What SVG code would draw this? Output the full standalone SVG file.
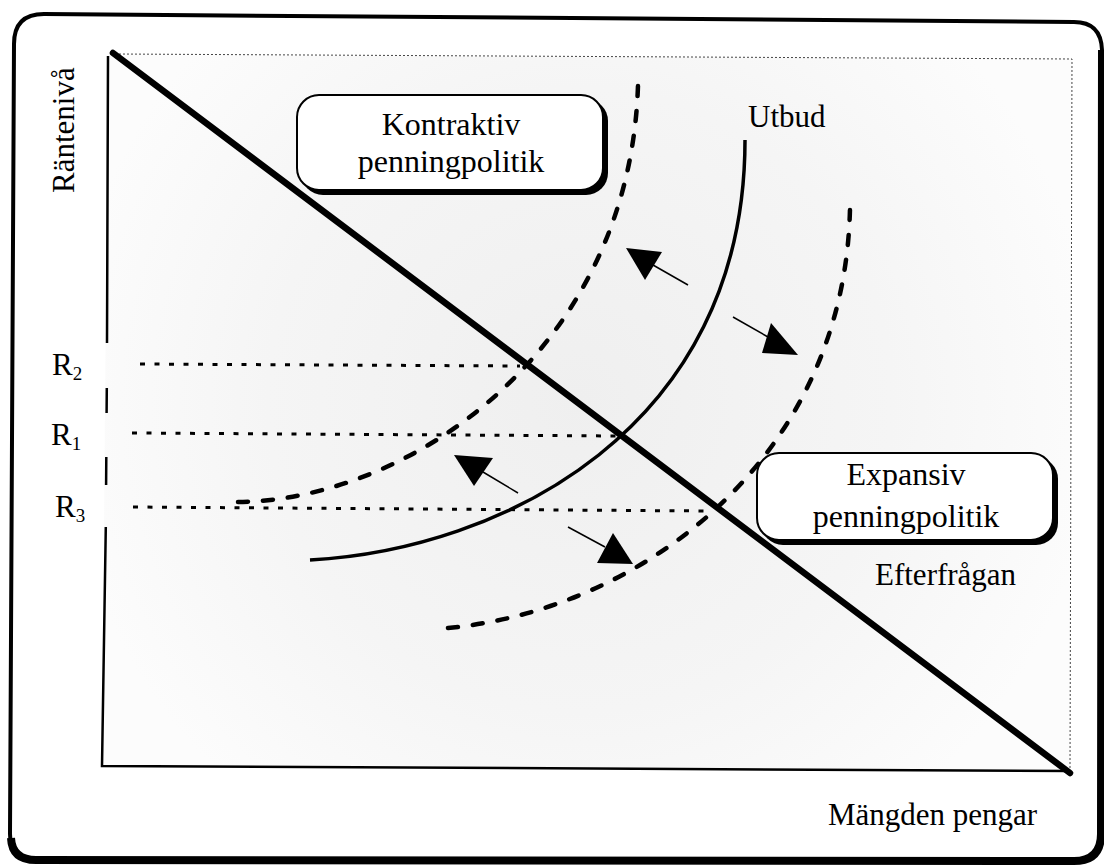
<svg xmlns="http://www.w3.org/2000/svg" width="1104" height="868" viewBox="0 0 1104 868">
<style>
  .t { font-family: "Liberation Serif", "Times New Roman", serif; font-size: 31px; fill: #000; }
  .bt { font-size: 32px; }
  .sub { font-size: 19px; }
  .axis { fill: none; stroke: #000; stroke-width: 2.5; }
  .dotted { fill: none; stroke: #000; stroke-width: 3; stroke-dasharray: 5 9.5; }
  .border { fill: none; stroke: #444; stroke-width: 1; stroke-dasharray: 2 2; }
  .dashcurve { fill: none; stroke: #000; stroke-width: 4.5; stroke-linecap: round; stroke-dasharray: 10 15; }
  .shaft { fill: none; stroke: #000; stroke-width: 1.5; }
  .head { fill: #000; }
  .boxshadow { fill: #000; }
  .box { fill: #fff; stroke: #000; stroke-width: 2; }
</style>
<defs>
  <radialGradient id="stipple" cx="580" cy="400" r="520" gradientUnits="userSpaceOnUse">
    <stop offset="0" stop-color="#efefef"/>
    <stop offset="0.6" stop-color="#f5f5f5"/>
    <stop offset="1" stop-color="#fcfcfc"/>
  </radialGradient>
</defs>
<rect width="1104" height="868" fill="#fff"/>

<g id="frame">
  <path d="M 14,44 Q 14,14 44,14 L 1074,22 Q 1101,22 1102,50 L 1101,834 Q 1101,861 1074,861 L 36,860 Q 10,860 10,834 Z" fill="none" stroke="#000" stroke-width="4"/>
  <path d="M 1102,50 L 1101,834 Q 1101,861 1074,861 L 36,860 Q 12,860 11,838" fill="none" stroke="#000" stroke-width="8"/>
</g>

<g id="plot">
  <path d="M 108,55 L 1072,59 L 1070,771 L 102,766 Z" fill="url(#stipple)"/>
  <path class="border" d="M 115,54 L 1072,59 L 1070,771"/>
  <path class="axis" d="M 108,56 L 107,343 M 106.8,388 L 106.6,413 M 106.3,457 L 106.1,485 M 105.8,527 L 102,766 L 1070,771"/>
</g>

<g id="ref-lines">
  <path class="dotted" d="M 140,364 L 520,366"/>
  <path class="dotted" d="M 132,433 L 620,436"/>
  <path class="dotted" d="M 133,507 L 708,511"/>
</g>

<g id="demand">
  <line x1="113" y1="53" x2="1070" y2="773" stroke="#000" stroke-width="6.5" stroke-linecap="round"/>
</g>
<g id="supply">
  <path d="M 310,560 C 500,550 745,430 745,140" fill="none" stroke="#000" stroke-width="3.5"/>
</g>
<g id="supply-contractive">
  <path class="dashcurve" d="M 238,502 C 410,500 630,350 638,85"/>
</g>
<g id="supply-expansive">
  <path class="dashcurve" d="M 448,628 C 640,610 845,460 850,208"/>
</g>

<g id="connectors">
  <path class="shaft" d="M 688,285 L 653,265"/>
  <polygon class="head" points="626,248 662,252 645,280"/>
  <path class="shaft" d="M 733,317 L 768,337"/>
  <polygon class="head" points="771,323 762,353 798,355"/>
  <path class="shaft" d="M 518,493 L 483,472"/>
  <polygon class="head" points="454,455 493,458 474,486"/>
  <path class="shaft" d="M 568,527 L 605,547"/>
  <polygon class="head" points="613,533 597,563 633,564"/>
</g>

<g id="box-kontraktiv">
  <rect class="boxshadow" x="301" y="99" width="307" height="96" rx="22"/>
  <rect class="box" x="297" y="95" width="306" height="95" rx="22"/>
  <text class="t bt" x="451" y="135" text-anchor="middle">Kontraktiv</text>
  <text class="t bt" x="451" y="172" text-anchor="middle">penningpolitik</text>
</g>

<g id="box-expansiv">
  <rect class="boxshadow" x="761" y="457" width="297" height="88" rx="22"/>
  <rect class="box" x="757" y="453" width="296" height="87" rx="22"/>
  <text class="t bt" x="906" y="485" text-anchor="middle">Expansiv</text>
  <text class="t bt" x="906" y="527" text-anchor="middle">penningpolitik</text>
</g>

<g id="labels">
  <text class="t" x="748" y="127">Utbud</text>
  <text class="t" x="875" y="585">Efterfrågan</text>
  <text class="t" x="828" y="825">Mängden pengar</text>
  <text class="t" transform="translate(74,193) rotate(-90)">Räntenivå</text>
  <text class="t" x="52" y="375">R<tspan class="sub" dy="5">2</tspan></text>
  <text class="t" x="51" y="445">R<tspan class="sub" dy="5">1</tspan></text>
  <text class="t" x="55" y="517">R<tspan class="sub" dy="5">3</tspan></text>
</g>
</svg>
